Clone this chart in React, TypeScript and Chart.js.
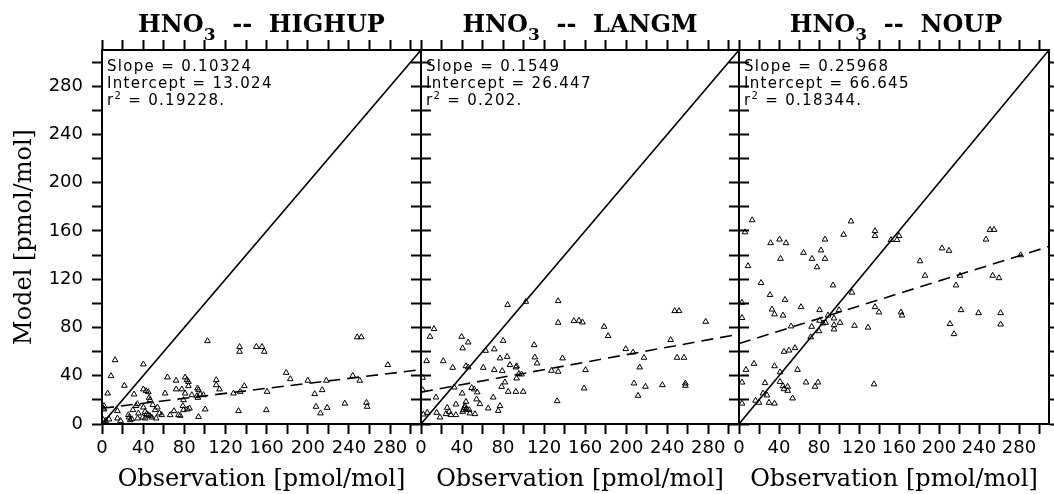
import React, { useEffect, useRef } from 'react'
import { Chart, registerables } from 'chart.js'

Chart.register(...registerables)

// model runs, one panel each
const RUNS = ['HIGHUP', 'LANGM', 'NOUP']
const SLOPES = [0.10324, 0.1549, 0.25968]
const INTERCEPTS = [13.024, 26.447, 66.645]
const R2_TEXT = ['0.19228', '0.202', '0.18344']

const AXIS_MAX = 310
const ONE_TO_ONE = [0, 310]
const TICK_VALUES = [0, 20, 40, 60, 80, 100, 120, 140, 160, 180, 200, 220, 240, 260, 280, 300]
const TICK_LABELS = [0, 40, 80, 120, 160, 200, 240, 280]

// HNO3 observation vs model [pmol/mol]
const OBS_HIGHUP = [12.7, 40.2, 8.8, 21.7, 5.5, 31.2, 2, 2, 15, 3.6, 6.8, 15, 18, 25.6, 26.3, 27.3, 29, 30, 33, 34.4, 35.4, 34.7, 40.2, 42.8, 45, 45.8, 46.7, 40.2, 41.9, 43.5, 45, 46.7, 39.6, 41.9, 48.4, 49.4, 51.6, 53.8, 55.8, 52.6, 58, 61.3, 63.6, 66.2, 70, 72, 72, 74.3, 76, 77.6, 79.2, 78.6, 79.2, 80.8, 82.5, 84, 84, 80.8, 83, 85, 87.3, 92.8, 93.8, 92.2, 93.2, 95.4, 98.6, 93.8, 100.3, 102.5, 111, 111, 114.2, 127.8, 134.4, 138.3, 133.7, 133.7, 132.7, 150, 155.5, 157.7, 179, 183, 200, 218, 243.7, 250.5, 277.8, 248, 252, 206.7, 214, 208, 212.3, 218.8, 236, 257, 257.7, 160.4, 159.7, 1.3, 1.3]
const MOD_HIGHUP = [53, 49.5, 39.8, 31.8, 25.4, 24.6, 15, 12.2, 10.8, 2.7, 3.9, 4.7, 2.7, 7.5, 5.5, 3.3, 4.1, 11.6, 15, 16.6, 8.9, 4.7, 28.8, 27.4, 26.5, 21.8, 19.9, 13.8, 10.2, 8.3, 7.5, 6.6, 5.5, 4.7, 5.5, 15.8, 11.6, 13.8, 8.9, 4.7, 7.5, 25.4, 38.7, 7.5, 10.8, 36, 28.8, 7.5, 6.9, 28.8, 19.9, 15, 11.6, 38.7, 36.5, 35, 31.5, 25.4, 12.2, 13, 24, 29.6, 28.2, 23.2, 21.8, 24.6, 24, 6, 12.2, 68.8, 36.5, 32.3, 28.8, 25.4, 26.8, 31.5, 64, 60, 10.8, 64, 64, 60, 42.5, 37.3, 36, 36, 40, 36, 49, 72, 72, 24.9, 28.2, 14.4, 8.9, 13.5, 17, 17.7, 14.4, 26.8, 11.6, 13, 3.3]

const OBS_LANGM = [84.4, 102.2, 12.7, 8.8, 5.5, 21.7, 39.6, 46, 40.6, 30.9, 43.8, 46, 63, 71.4, 80.1, 77, 84, 60.7, 71.4, 79.2, 86.7, 92.5, 93.2, 95.4, 98, 93.2, 110.3, 111, 113.2, 138, 127.2, 133.7, 133.7, 133.7, 149, 154, 157.4, 160.4, 159, 132.7, 1.6, 1.6, 14.6, 32.4, 40.2, 49.4, 51.9, 54.8, 54.2, 57.4, 43.8, 42.8, 41.2, 44.5, 47, 47.7, 52.6, 40.6, 42.2, 34, 25.6, 24.3, 29.2, 27.5, 34, 15.3, 18.5, 2.3, 6.1, 65.5, 70.4, 77, 75.3, 78.6, 81.8, 85, 92.5, 99.6, 178.5, 182.4, 199.6, 206.7, 217.4, 213.2, 207.7, 218.8, 211.6, 235.3, 247.3, 251.5, 243.4, 249.6, 256.4, 257.7, 257.7, 277.5]
const MOD_LANGM = [98.7, 101.4, 78.8, 72.4, 52.2, 52.2, 72.4, 67.7, 62.8, 46.7, 48, 47, 60.8, 62, 69, 54.5, 55.8, 46.7, 44.8, 44, 49, 47, 48, 41.5, 41.2, 37.9, 65.5, 55.3, 50.3, 54.5, 44.2, 43.4, 102, 84, 85.4, 85.7, 84.3, 44.8, 29.6, 19, 38.4, 28.2, 22.1, 30.4, 25.4, 30, 28.8, 26.3, 20.5, 16.6, 18.5, 15, 11.6, 12.4, 11.6, 8.9, 8.3, 10.2, 13.5, 16.3, 13.5, 8.3, 7.5, 10.2, 7.5, 9.4, 5.5, 8, 9.4, 13, 22.1, 15, 11, 30.9, 34.6, 26.8, 26.8, 26.8, 80.7, 73, 62.2, 59.4, 55, 47, 33.7, 31, 23.5, 32.3, 93.7, 93.7, 69.7, 55, 55, 33.7, 31.8, 84.8]

const OBS_NOUP = [13.2, 6, 9, 22, 31, 3, 3, 33, 35.5, 46, 44, 52, 31.6, 40.5, 47, 41.5, 64.5, 73, 78, 82, 86, 86, 104.6, 112, 136, 136, 152, 158, 160, 94, 62, 80.6, 80.6, 84, 86.5, 89, 95, 95, 95, 100, 101, 113, 115.5, 129, 136, 140, 72.7, 80, 71.7, 45, 50, 56, 15, 7, 35.5, 41, 58.5, 3, 26, 41, 44, 45, 48.7, 48.7, 67, 76, 79, 24, 28, 3, 16.5, 20, 30, 35.5, 53.6, 135, 181, 186, 203, 210, 217, 221, 211, 215, 222, 239.6, 247, 251, 255, 253.7, 260, 261.6, 261.6, 281.7, 162, 163]
const MOD_NOUP = [169, 159, 131, 117, 107, 100.6, 88, 95, 91, 103, 90, 81, 150, 153, 150, 137, 142, 137, 130, 144, 137, 153, 157, 168, 160, 156, 152.6, 152.6, 156, 115, 97, 94.5, 85.7, 83.5, 84, 90, 87.6, 82, 78.5, 94.5, 84, 109, 81.5, 80, 97, 92.6, 80.7, 77, 72, 60, 61, 63, 50, 45, 48, 43, 45, 34.5, 34, 35, 31.5, 29, 31, 27.6, 34.5, 31, 34.5, 25.4, 23.8, 17, 19.4, 17.7, 17.7, 17, 21.3, 33, 135, 123, 145.7, 143.7, 115, 123, 83, 74.6, 94.5, 92, 153, 161, 161, 123, 121, 92, 82.6, 140, 92.6, 90]

const OBS = [OBS_HIGHUP, OBS_LANGM, OBS_NOUP]
const MOD = [MOD_HIGHUP, MOD_LANGM, MOD_NOUP]

// page layout
const W = 1054
const H = 494
const PANEL_LEFT = [102, 421, 739]
const PANEL_RIGHT = [421, 739, 1053]
const PLOT_TOP = 50
const PLOT_BOTTOM = 424

const SANS = 'DejaVu Sans'
const SERIF = 'DejaVu Serif'

function setTicks(scale: any) {
  scale.ticks = TICK_VALUES.map((value) => ({ value }))
}

const gridOpts = {
  drawOnChartArea: false,
  drawTicks: true,
  tickLength: 10,
  tickWidth: 2,
  tickColor: '#000',
  color: '#000',
}
const borderOpts = { display: true, color: '#000', width: 2 }

function buildChart(canvas: HTMLCanvasElement, i: number) {
  const obs = OBS[i]
  const mod = MOD[i]
  const fit = ONE_TO_ONE.map((x) => ({ x, y: SLOPES[i] * x + INTERCEPTS[i] }))
  const left = PANEL_LEFT[i]
  const right = PANEL_RIGHT[i]

  return new Chart(canvas, {
    type: 'scatter',
    data: {
      datasets: [
        {
          type: 'line',
          data: ONE_TO_ONE.map((v) => ({ x: v, y: v })),
          borderColor: '#000',
          borderWidth: 1.6,
          pointRadius: 0,
          order: 2,
        },
        {
          type: 'line',
          data: fit,
          borderColor: '#000',
          borderWidth: 1.6,
          borderDash: [12, 7],
          pointRadius: 0,
          order: 1,
        },
        {
          type: 'scatter',
          data: obs.map((x, k) => ({ x, y: mod[k] })),
          pointStyle: 'triangle',
          pointRadius: 3.3,
          borderWidth: 1,
          borderColor: '#000',
          backgroundColor: 'rgba(0,0,0,0)',
          order: 0,
        },
      ],
    },
    options: {
      responsive: false,
      animation: false,
      events: [],
      layout: { padding: 0 },
      plugins: { legend: { display: false }, tooltip: { enabled: false } },
      scales: {
        x: {
          type: 'linear',
          position: 'bottom',
          min: 0,
          max: AXIS_MAX,
          afterBuildTicks: setTicks,
          afterFit: (s: any) => { s.height = H - PLOT_BOTTOM },
          ticks: {
            autoSkip: false,
            maxRotation: 0,
            padding: 4,
            color: '#000',
            font: { family: SANS, size: 18 },
            callback: (v: any) => (TICK_LABELS.includes(Number(v)) ? String(v) : ''),
          },
          grid: gridOpts,
          border: borderOpts,
          title: {
            display: true,
            text: 'Observation [pmol/mol]',
            color: '#000',
            font: { family: SERIF, size: 24 },
            padding: { top: 0, bottom: 0 },
          },
        },
        xTop: {
          type: 'linear',
          position: 'top',
          min: 0,
          max: AXIS_MAX,
          afterBuildTicks: setTicks,
          afterFit: (s: any) => { s.height = PLOT_TOP },
          ticks: { autoSkip: false, maxRotation: 0, callback: () => '' },
          grid: gridOpts,
          border: borderOpts,
        },
        y: {
          type: 'linear',
          position: 'left',
          min: 0,
          max: AXIS_MAX,
          afterBuildTicks: setTicks,
          afterFit: (s: any) => { s.width = left },
          ticks: {
            autoSkip: false,
            padding: 9,
            color: '#000',
            font: { family: SANS, size: 18 },
            callback: (v: any) => (i === 0 && TICK_LABELS.includes(Number(v)) ? String(v) : ''),
          },
          grid: gridOpts,
          border: borderOpts,
          title: {
            display: i === 0,
            text: 'Model [pmol/mol]',
            color: '#000',
            font: { family: SERIF, size: 24 },
            padding: { top: 10, bottom: 0 },
          },
        },
        yRight: {
          type: 'linear',
          position: 'right',
          min: 0,
          max: AXIS_MAX,
          afterBuildTicks: setTicks,
          afterFit: (s: any) => { s.width = W - right },
          ticks: { autoSkip: false, callback: () => '' },
          grid: gridOpts,
          border: borderOpts,
        },
      },
    },
  } as any)
}

export default function App() {
  const c0 = useRef<HTMLCanvasElement>(null)
  const c1 = useRef<HTMLCanvasElement>(null)
  const c2 = useRef<HTMLCanvasElement>(null)

  useEffect(() => {
    const charts: Chart[] = []
    ;[c0, c1, c2].forEach((ref, i) => {
      if (ref.current) charts.push(buildChart(ref.current, i))
    })
    return () => charts.forEach((c) => c.destroy())
  }, [])

  const canvasStyle: React.CSSProperties = { position: 'absolute', left: 0, top: 0, width: W, height: H }

  return (
    <div style={{ position: 'absolute', left: 0, top: 0, width: W, height: H, background: '#fff', overflow: 'hidden' }}>
      {[c0, c1, c2].map((ref, i) => (
        <canvas key={i} ref={ref} width={W} height={H} style={canvasStyle}></canvas>
      ))}
      {RUNS.map((run, i) => (
        <div
          key={'t' + i}
          style={{
            position: 'absolute',
            left: PANEL_LEFT[i],
            width: PANEL_RIGHT[i] - PANEL_LEFT[i],
            top: 10,
            textAlign: 'center',
            fontFamily: SERIF,
            fontWeight: 'bold',
            fontSize: 24,
            lineHeight: '28px',
            whiteSpace: 'pre',
            color: '#000',
          }}
        >
          HNO<span style={{ fontSize: 17, position: 'relative', top: 8 }}>3</span>{'  --  '}{run}
        </div>
      ))}
      {RUNS.map((run, i) => (
        <div
          key={'a' + i}
          style={{
            position: 'absolute',
            left: PANEL_LEFT[i] + 5,
            top: 58,
            fontFamily: SANS,
            fontSize: 15,
            letterSpacing: 1.3,
            lineHeight: '17px',
            color: '#000',
            whiteSpace: 'pre',
          }}
        >
          <div>Slope = {SLOPES[i]}</div>
          <div>Intercept = {INTERCEPTS[i]}</div>
          <div>
            r<sup style={{ fontSize: 10, lineHeight: 0 }}>2</sup> = {R2_TEXT[i]}.
          </div>
        </div>
      ))}
    </div>
  )
}
